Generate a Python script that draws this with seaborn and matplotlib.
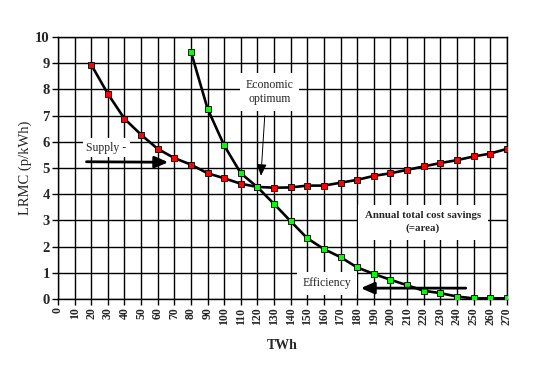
import matplotlib
matplotlib.use("Agg")
import matplotlib.pyplot as plt
import seaborn as sns
import pandas as pd

twh = list(range(20, 280, 10))
supply = [8.94, 7.83, 6.88, 6.27, 5.73, 5.38, 5.13, 4.80, 4.61, 4.40, 4.28,
          4.25, 4.26, 4.33, 4.33, 4.44, 4.55, 4.70, 4.80, 4.93, 5.06, 5.19,
          5.30, 5.44, 5.55, 5.73]
eff_twh = list(range(80, 280, 10))
efficiency = [9.43, 7.26, 5.86, 4.80, 4.27, 3.63, 2.97, 2.32, 1.91, 1.60,
              1.21, 0.96, 0.74, 0.53, 0.32, 0.23, 0.10, 0.03, 0.03, 0.03]
xticks = list(range(0, 280, 10))
yticks = list(range(0, 11))

sns.set_style("white")
plt.rcParams['font.family'] = ['Liberation Serif', 'DejaVu Serif']

df_s = pd.DataFrame({"TWh": twh, "LRMC": supply})
df_e = pd.DataFrame({"TWh": eff_twh, "LRMC": efficiency})

fig = plt.figure(figsize=(5.42, 3.73), dpi=100)
ax = fig.add_axes([0.107, 0.198, 0.828, 0.703])

sns.lineplot(data=df_s, x="TWh", y="LRMC", ax=ax, color="black", lw=1.9,
             marker="s", markersize=5, markerfacecolor="#ff0000",
             markeredgecolor="black", markeredgewidth=0.6, zorder=5)
sns.lineplot(data=df_e, x="TWh", y="LRMC", ax=ax, color="black", lw=1.9,
             marker="s", markersize=5, markerfacecolor="#00ff00",
             markeredgecolor="black", markeredgewidth=0.6, zorder=6)

ax.set_xlim(0, 270)
ax.set_ylim(0, 10)
ax.set_xticks(xticks)
ax.set_xticklabels([str(v) for v in xticks], rotation=90, fontsize=8.5,
                   fontweight="bold")
ax.set_yticks(yticks)
ax.set_yticklabels([str(v) for v in yticks], fontsize=10.5, fontweight="bold")
ax.grid(True, color="black", lw=1)
ax.set_axisbelow(True)
ax.tick_params(axis="both", direction="out", length=4, width=1,
               color="black", pad=2, left=True, bottom=True)
for s in ax.spines.values():
    s.set_color("black")
    s.set_linewidth(1)

ax.set_xlabel("TWh", fontsize=10, fontweight="bold", labelpad=10)
ax.set_ylabel("LRMC (p/kWh)", fontsize=10.5, labelpad=2)

box = dict(facecolor="white", edgecolor="none", pad=2.5)
ax.text(28.9, 5.77, "Supply -", fontsize=8.5, ha="center", va="center",
        bbox=box, zorder=3)
ax.text(127.5, 7.9, "Economic\noptimum", fontsize=8.5, ha="center",
        va="center", bbox=dict(facecolor="white", edgecolor="none", pad=4),
        zorder=3, linespacing=1.3)
ax.text(219.5, 2.94, "Annual total cost savings\n(=area)", fontsize=7.8,
        fontweight="bold", ha="center", va="center",
        bbox=dict(facecolor="white", edgecolor="none", pad=5), zorder=3,
        linespacing=1.4)
ax.text(161.8, 0.61, "Efficiency", fontsize=8.5, ha="center", va="center",
        bbox=dict(facecolor="white", edgecolor="none", pad=4), zorder=3)

ax.annotate("", xy=(68, 5.22), xytext=(15.5, 5.24),
            arrowprops=dict(arrowstyle="-|>,head_length=0.8,head_width=0.35",
                            color="black", lw=2), zorder=7)
ax.annotate("", xy=(180.5, 0.42), xytext=(247, 0.42),
            arrowprops=dict(arrowstyle="-|>,head_length=0.8,head_width=0.35",
                            color="black", lw=2), zorder=7)
ax.annotate("", xy=(122, 4.6), xytext=(124.5, 7.1),
            arrowprops=dict(arrowstyle="-|>,head_length=0.7,head_width=0.3",
                            color="black", lw=0.7), zorder=7)

fig.savefig("out.png", dpi=100)
